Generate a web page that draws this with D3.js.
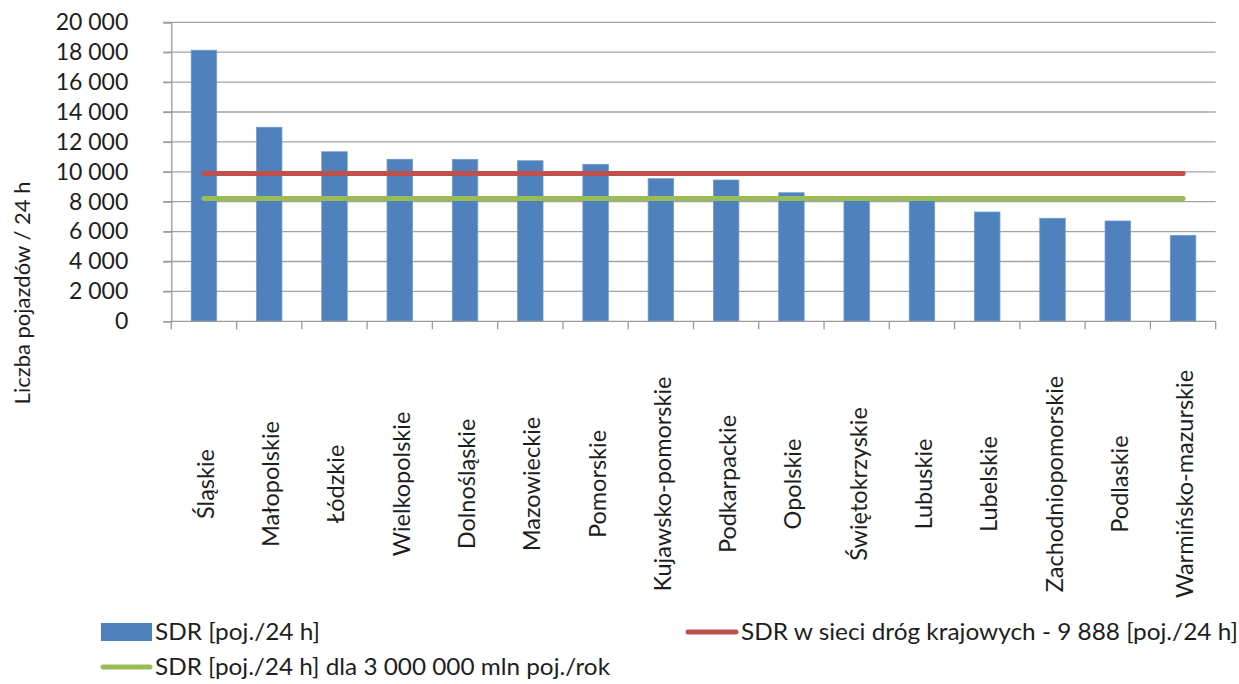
<!DOCTYPE html>
<html>
<head>
<meta charset="utf-8">
<script src="https://cdn.jsdelivr.net/npm/d3@7"></script>
<style>
  html, body { margin: 0; padding: 0; background: #fff; }
  svg { display: block; }
  text { font-family: Lato, "Open Sans", sans-serif; fill: #1e1e1e; }
</style>
</head>
<body>
<svg id="chart" width="1239" height="684"></svg>
<script>
// Voivodeships, ordered by average daily traffic
const regions = [
  "Śląskie", "Małopolskie", "Łódzkie", "Wielkopolskie", "Dolnośląskie",
  "Mazowieckie", "Pomorskie", "Kujawsko-pomorskie", "Podkarpackie", "Opolskie",
  "Świętokrzyskie", "Lubuskie", "Lubelskie", "Zachodniopomorskie", "Podlaskie",
  "Warmińsko-mazurskie"
];
// SDR [poj./24 h] per voivodeship
const sdrValues = [
  18130, 12980, 11340, 10840, 10830,
  10740, 10500, 9540, 9450, 8600,
  8190, 8120, 7310, 6890, 6710,
  5750
];
// National-road network average and the 3 000 000 000 veh./year threshold
const nationalAverage = 9888;
const thresholdValue = 8219;
const yTicks = [0, 2000, 4000, 6000, 8000, 10000, 12000, 14000, 16000, 18000, 20000];

const legendLabels = {
  bars: "SDR [poj./24 h]",
  national: "SDR w sieci dróg krajowych - 9 888 [poj./24 h]",
  threshold: "SDR [poj./24 h] dla 3 000 000 mln poj./rok"
};

const colors = { bar: "#4F81BD", red: "#C0504D", green: "#9BBB59", grid: "#a3a3a3", axis: "#9a9a9a" };

const svg = d3.select("#chart");
const plot = { left: 171.3, right: 1215.7, top: 22.3, bottom: 321.3 };

const x = d3.scaleBand()
  .domain(regions)
  .range([plot.left, plot.right])
  .paddingInner(0.61)
  .paddingOuter(0.305);

const y = d3.scaleLinear()
  .domain([0, 20000])
  .range([plot.bottom, plot.top]);

const locale = d3.formatLocale({ decimal: ",", thousands: "\u2009", grouping: [3], currency: ["", " zł"] });
const fmt = locale.format(",d");

// Horizontal gridlines
svg.append("g")
  .selectAll("line")
  .data(yTicks.filter(d => d > 0))
  .join("line")
  .attr("x1", plot.left - 8)
  .attr("x2", plot.right)
  .attr("y1", d => y(d))
  .attr("y2", d => y(d))
  .attr("stroke", colors.grid)
  .attr("stroke-width", 1.3);

// Y axis
const yAxis = svg.append("g")
  .attr("transform", `translate(${plot.left},0)`)
  .call(d3.axisLeft(y).tickValues(yTicks).tickFormat(d => fmt(d).replace("\u2009", " ")).tickSize(8).tickPadding(35));
yAxis.select(".domain").attr("stroke", colors.axis).attr("stroke-width", 1.3);
yAxis.selectAll(".tick line").attr("stroke", colors.axis).attr("stroke-width", 1.3);
yAxis.selectAll(".tick text")
  .attr("font-size", 23)
  .attr("font-family", "Lato, sans-serif")
  .attr("fill", "#1e1e1e");

// Bars
svg.append("g")
  .selectAll("rect")
  .data(regions.map((r, i) => ({ region: r, value: sdrValues[i] })))
  .join("rect")
  .attr("x", d => x(d.region))
  .attr("y", d => y(d.value))
  .attr("width", x.bandwidth())
  .attr("height", d => y(0) - y(d.value))
  .attr("fill", colors.bar)
  .attr("stroke", "#6e9ad0")
  .attr("stroke-width", 0.8);

// X axis with ticks on category boundaries
const step = x.step();
const boundaries = d3.range(regions.length + 1).map(i => plot.left + i * step);
const xAxis = svg.append("g");
xAxis.append("line")
  .attr("x1", plot.left).attr("x2", plot.right)
  .attr("y1", plot.bottom).attr("y2", plot.bottom)
  .attr("stroke", colors.axis).attr("stroke-width", 1.3);
xAxis.selectAll("line.tick")
  .data(boundaries)
  .join("line")
  .attr("class", "tick")
  .attr("x1", d => d).attr("x2", d => d)
  .attr("y1", plot.bottom).attr("y2", plot.bottom + 8)
  .attr("stroke", colors.axis).attr("stroke-width", 1.3);

// Rotated category labels
const center = r => x(r) + x.bandwidth() / 2;
svg.append("g")
  .selectAll("text")
  .data(regions)
  .join("text")
  .attr("transform", d => `translate(${center(d) + 1},484) rotate(-90)`)
  .attr("text-anchor", "middle")
  .attr("dominant-baseline", "central")
  .attr("font-size", 23.5)
  .text(d => d);

// Reference lines from first to last category centre
const refLine = (value, color) => svg.append("line")
  .attr("x1", center(regions[0]))
  .attr("x2", center(regions[regions.length - 1]))
  .attr("y1", y(value))
  .attr("y2", y(value))
  .attr("stroke", color)
  .attr("stroke-width", 5)
  .attr("stroke-linecap", "round");
refLine(nationalAverage, colors.red);
refLine(thresholdValue, colors.green);

// Y axis title
svg.append("text")
  .attr("transform", "translate(21,293) rotate(-90)")
  .attr("text-anchor", "middle")
  .attr("dominant-baseline", "central")
  .attr("font-size", 22)
  .text("Liczba pojazdów / 24 h");

// Legend
const legend = svg.append("g");
legend.append("rect")
  .attr("x", 101).attr("y", 623).attr("width", 51).attr("height", 18)
  .attr("fill", colors.bar);
legend.append("text")
  .attr("x", 155).attr("y", 640)
  .attr("font-size", 23)
  .attr("textLength", 165).attr("lengthAdjust", "spacingAndGlyphs")
  .text(legendLabels.bars);

legend.append("line")
  .attr("x1", 688).attr("x2", 736).attr("y1", 632).attr("y2", 632)
  .attr("stroke", colors.red).attr("stroke-width", 5).attr("stroke-linecap", "round");
legend.append("text")
  .attr("x", 741).attr("y", 640)
  .attr("font-size", 23)
  .attr("textLength", 497).attr("lengthAdjust", "spacingAndGlyphs")
  .text(legendLabels.national);

legend.append("line")
  .attr("x1", 103).attr("x2", 150).attr("y1", 667).attr("y2", 667)
  .attr("stroke", colors.green).attr("stroke-width", 5).attr("stroke-linecap", "round");
legend.append("text")
  .attr("x", 155).attr("y", 675)
  .attr("font-size", 23)
  .attr("textLength", 455).attr("lengthAdjust", "spacingAndGlyphs")
  .text(legendLabels.threshold);
</script>
</body>
</html>
